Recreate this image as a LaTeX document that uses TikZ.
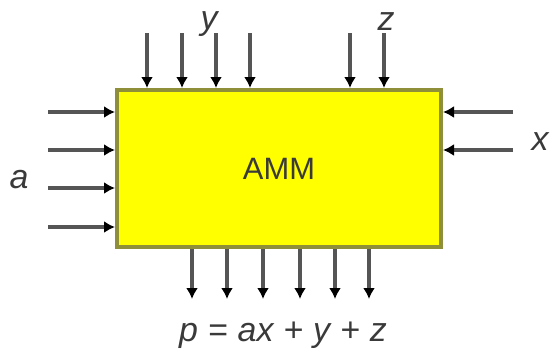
\documentclass[tikz,border=0pt]{standalone}
\usepackage{fontspec}
\setmainfont{Liberation Sans}
\usetikzlibrary{arrows.meta}
\definecolor{boxfill}{HTML}{FFFF00}
\definecolor{boxline}{HTML}{8F8F3A}
\definecolor{wire}{HTML}{555555}
\definecolor{txt}{HTML}{3A3A3A}
\tikzset{
  box/.style={draw=boxline, fill=boxfill, line width=4bp, minimum width=324bp, minimum height=157bp, inner sep=0pt, text=txt, font=\fontsize{31}{36}\selectfont},
  arr/.style={draw=wire, line width=3.4bp, -{Latex[length=11bp,width=12bp,black]}},
  lbl/.style={text=txt, font=\fontsize{34}{40}\selectfont\itshape, inner sep=0pt}
}
\newcommand{\gapsp}{\hspace{10bp}}
\begin{document}
\begin{tikzpicture}[x=1bp,y=-1bp]
\useasboundingbox (0,0) rectangle (552,355);
\node[box] (amm) at (279,168.5) {AMM};
% top inputs
\foreach \i/\xx in {1/147,2/182,3/216,4/250,5/350,6/384} {
  \coordinate (t\i) at (\xx,33);
  \draw[arr] (t\i) -- (t\i |- amm.north);
}
% left inputs
\foreach \i/\yy in {1/112,2/150,3/188,4/227} {
  \coordinate (l\i) at (48,\yy);
  \draw[arr] (l\i) -- (l\i -| amm.west);
}
% right inputs
\foreach \i/\yy in {1/112,2/150} {
  \coordinate (r\i) at (513,\yy);
  \draw[arr] (r\i) -- (r\i -| amm.east);
}
% bottom outputs
\foreach \i/\xx in {1/192,2/227,3/263,4/300,5/335,6/369} {
  \coordinate (b\i) at (\xx,299);
  \draw[arr] (b\i |- amm.south) -- (b\i);
}
\node[lbl] (ly) at (209,24) {y};
\node[lbl] (lz) at (386,22) {z};
\node[lbl] (la) at (19,180) {a};
\node[lbl] (lx) at (540,142) {x};
\node[lbl] (lp) at (283,335) {p\gapsp=\gapsp ax\gapsp+\gapsp y\gapsp+\gapsp z};
\end{tikzpicture}
\end{document}
